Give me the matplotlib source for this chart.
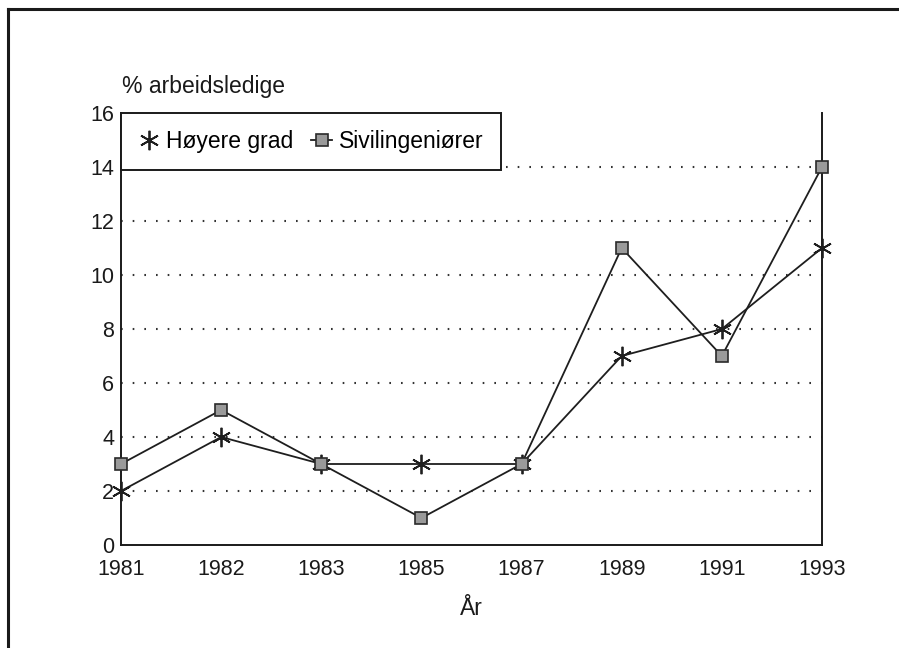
import matplotlib
matplotlib.use("Agg")
import matplotlib.pyplot as plt
from matplotlib.lines import Line2D

years = ["1981", "1982", "1983", "1985", "1987", "1989", "1991", "1993"]
hoyere_grad = [2, 4, 3, 3, 3, 7, 8, 11]
sivilingeniorer = [3, 5, 3, 1, 3, 11, 7, 14]
yticks = [0, 2, 4, 6, 8, 10, 12, 14, 16]

plt.rcParams['font.family'] = ['Liberation Sans', 'DejaVu Sans']
FS_T = 15.5
FS = 16.5
W, H = 899, 648
fig = plt.figure(figsize=(W / 100, H / 100), dpi=100)
ax = fig.add_axes([121 / W, 1 - 545 / H, (822 - 121) / W, (545 - 113) / H])

x = list(range(len(years)))
lc = '#1e1e1e'
ast = (6, 2, 0)
ax.plot(x, hoyere_grad, color=lc, lw=1.3, marker=ast, ms=14, mew=1.3,
        mec=lc, zorder=3, clip_on=False, label='Høyere grad')
ax.plot(x, sivilingeniorer, color=lc, lw=1.3, marker='s', ms=8, mfc='#9a9a9a',
        mec='#2a2a2a', mew=1.2, zorder=4, clip_on=False, label='Sivilingeniører')

ax.set_xlim(0, len(years) - 1)
ax.set_ylim(0, 16)
ax.set_xticks(x)
ax.set_xticklabels(years)
ax.set_yticks(yticks)
ax.tick_params(axis='both', length=0, labelsize=FS_T, colors='#1a1a1a')
ax.tick_params(axis='y', pad=5)
ax.tick_params(axis='x', pad=10)
ax.spines['top'].set_visible(False)
for s in ['left', 'bottom', 'right']:
    ax.spines[s].set_linewidth(1.4)
    ax.spines[s].set_color('#1a1a1a')

ax.yaxis.grid(True, color='#333333', lw=1.5, linestyle=(0, (0.8, 4.8)))
gl = ax.get_ygridlines()
gl[0].set_visible(False)
gl[-1].set_visible(False)
ax.set_axisbelow(True)

ax.set_xlabel('År', fontsize=FS, labelpad=12, color='#1a1a1a')
fig.text(122 / W, 1 - 86 / H, '% arbeidsledige', fontsize=FS, color='#1a1a1a',
         va='center', ha='left')

h1 = Line2D([], [], color=lc, lw=0, marker=ast, ms=14, mew=1.3, mec=lc)
h2 = Line2D([], [], color=lc, lw=1.3, marker='s', ms=8, mfc='#9a9a9a',
            mec='#2a2a2a', mew=1.2)
leg = ax.legend([h1, h2], ['Høyere grad', 'Sivilingeniører'], loc='upper left',
                bbox_to_anchor=(0, 1), borderaxespad=0, ncol=2, fontsize=FS,
                frameon=True, fancybox=False, handlelength=0.9, handletextpad=0.3,
                columnspacing=0.8, borderpad=0.75)
leg.get_frame().set_edgecolor('#1a1a1a')
leg.get_frame().set_linewidth(1.4)
leg.get_frame().set_alpha(1)
leg.set_zorder(10)

# outer frame (figure border, cropped on right and bottom)
fig.add_artist(Line2D([8 / W, 1], [1 - 9 / H, 1 - 9 / H], transform=fig.transFigure,
                      color='#1a1a1a', lw=2.2))
fig.add_artist(Line2D([8 / W, 8 / W], [0, 1 - 9 / H], transform=fig.transFigure,
                      color='#1a1a1a', lw=2.2))

fig.savefig('out.png', dpi=100)
